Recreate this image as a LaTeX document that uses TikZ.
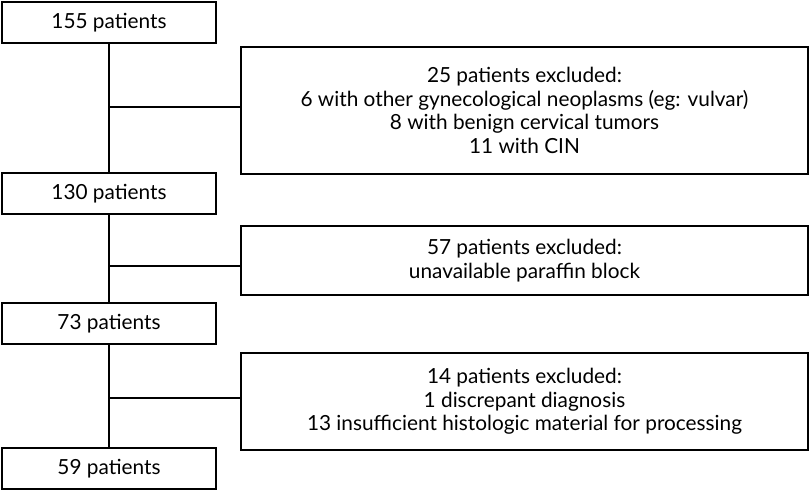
\documentclass[tikz,border=0pt]{standalone}
\usepackage{fontspec}
\setmainfont{Lato}
\begin{document}
\begin{tikzpicture}[x=1pt,y=-1pt,
  box/.style={draw=black,line width=2.8pt,rectangle,inner sep=0pt,align=center,font=\fontsize{20.8}{23.5}\selectfont},
  link/.style={draw=black,line width=2.8pt}]
\useasboundingbox (0,0) rectangle (810,491);
\node[box,minimum width=214pt,minimum height=41pt] (b1) at (109,22.5) {155 patients};
\node[box,minimum width=214pt,minimum height=41pt] (b2) at (109,193.5) {130 patients};
\node[box,minimum width=214pt,minimum height=41pt] (b3) at (109,323.5) {73 patients};
\node[box,minimum width=214pt,minimum height=41pt] (b4) at (109,468.5) {59 patients};
\node[box,minimum width=567pt,minimum height=127pt] (e1) at (524.5,110.5) {25 patients excluded:\\6 with other gynecological neoplasms (eg: vulvar)\\8 with benign cervical tumors\\11 with CIN};
\node[box,minimum width=567pt,minimum height=69pt] (e2) at (524.5,260.5) {57 patients excluded:\\unavailable paraffin block};
\node[box,minimum width=567pt,minimum height=97pt] (e3) at (524.5,401.5) {14 patients excluded:\\1 discrepant diagnosis\\13 insufficient histologic material for processing};
\coordinate (j1) at (109,107);
\coordinate (j2) at (109,266);
\coordinate (j3) at (109,398);
\draw[link] (b1.south) -- (b2.north);
\draw[link] (b2.south) -- (b3.north);
\draw[link] (b3.south) -- (b4.north);
\draw[link] (j1) -- (j1 -| e1.west);
\draw[link] (j2) -- (j2 -| e2.west);
\draw[link] (j3) -- (j3 -| e3.west);
\end{tikzpicture}
\end{document}
